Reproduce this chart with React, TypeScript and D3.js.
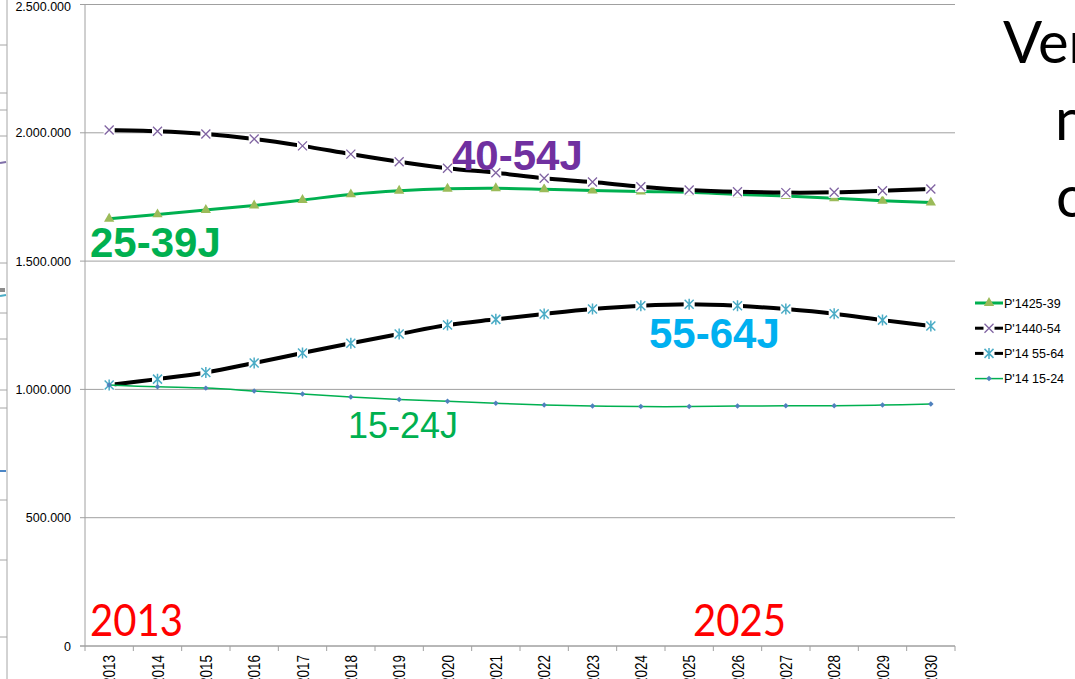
import * as d3 from "d3";

// categories
const years = [
  "2013", "2014", "2015", "2016", "2017", "2018", "2019", "2020", "2021",
  "2022", "2023", "2024", "2025", "2026", "2027", "2028", "2029", "2030",
];

// series values (persons)
const p25_39 = [
  1665000, 1682000, 1699000, 1717000, 1738000, 1760000, 1774000, 1782000, 1784000,
  1780000, 1775000, 1771000, 1768000, 1760000, 1754000, 1745000, 1735000, 1728000,
];
const p40_54 = [
  2011000, 2006000, 1995000, 1976000, 1949000, 1917000, 1887000, 1862000, 1844000,
  1823000, 1808000, 1790000, 1777000, 1770000, 1767000, 1768000, 1774000, 1781000,
];
const p55_64 = [
  1017000, 1040000, 1066000, 1103000, 1142000, 1180000, 1216000, 1251000, 1273000,
  1294000, 1313000, 1326000, 1332000, 1326000, 1313000, 1295000, 1270000, 1247000,
];
const p15_24 = [
  1017000, 1010000, 1005000, 994000, 982000, 970000, 961000, 954000, 946000,
  939000, 935000, 933000, 933000, 935000, 936000, 936000, 939000, 943000,
];

const yTicks = [0, 500000, 1000000, 1500000, 2000000, 2500000];
const legendNames = ["P'1425-39", "P'1440-54", "P'14 55-64", "P'14 15-24"];

const W = 1075;
const H = 679;
const left = 85;
const right = 955;
const top = 4.5;
const bottom = 646;

const x = d3.scaleBand<string>().domain(years).range([left, right]).padding(0);
const y = d3.scaleLinear().domain([0, 2500000]).range([bottom, top]);
const cx = (yr: string) => (x(yr) ?? 0) + x.bandwidth() / 2;

const fmt = (v: number) => d3.format(",")(v).replace(/,/g, ".");

type Marker = "tri" | "x" | "star" | "diamond";

type Series = {
  name: string;
  values: number[];
  stroke: string;
  width: number;
  marker: Marker;
  mColor: string;
};

const series: Series[] = [
  { name: legendNames[0], values: p25_39, stroke: "#00B050", width: 3, marker: "tri", mColor: "#9BBB59" },
  { name: legendNames[1], values: p40_54, stroke: "#000000", width: 4, marker: "x", mColor: "#8064A2" },
  { name: legendNames[2], values: p55_64, stroke: "#000000", width: 4, marker: "star", mColor: "#4BACC6" },
  { name: legendNames[3], values: p15_24, stroke: "#00B050", width: 1.5, marker: "diamond", mColor: "#4F81BD" },
];

const triPath = d3.symbol(d3.symbolTriangle, 46)()!;
const diaPath = d3.symbol(d3.symbolSquare, 15)()!;

function MarkerGlyph(props: { kind: Marker; color: string; px: number; py: number }) {
  const { kind, color, px, py } = props;
  const t = `translate(${px},${py})`;
  if (kind === "tri") return <path d={triPath} transform={t} fill={color} />;
  if (kind === "diamond")
    return <path d={diaPath} transform={`${t} rotate(45)`} fill={color} />;
  const r = 4.5;
  const cross = `M${-r},${-r}L${r},${r}M${-r},${r}L${r},${-r}`;
  return (
    <g transform={t}>
      <rect x={-5.5} y={-5.5} width={11} height={11} fill="#fff" />
      <path
        d={kind === "star" ? cross + `M0,${-r - 1}L0,${r + 1}` : cross}
        stroke={color}
        strokeWidth={kind === "star" ? 1.5 : 1.3}
        fill="none"
      />
    </g>
  );
}

// stray lines of the neighbouring slide on the left edge
const edgeTicks = [45, 93, 110, 136, 263, 313, 339, 390, 408, 500, 560, 637];

export default function App() {
  const line = d3
    .line<number>()
    .x((_, i) => cx(years[i]))
    .y((d) => y(d))
    .curve(d3.curveCatmullRom.alpha(0.5));

  return (
    <svg
      width={W}
      height={H}
      style={{ position: "absolute", left: 0, top: 0, background: "#fff" }}
      fontFamily="'Liberation Sans', Arial, sans-serif"
    >
      <rect width={W} height={H} fill="#fff" />

      {/* left edge remnants */}
      <line x1={7} x2={7} y1={0} y2={H} stroke="#A6A6A6" strokeWidth={1} />
      {edgeTicks.map((t) => (
        <line key={t} x1={0} x2={7} y1={t} y2={t} stroke="#A6A6A6" strokeWidth={1} />
      ))}
      <line x1={0} x2={6} y1={163} y2={162} stroke="#7F6FA8" strokeWidth={2} />
      <line x1={0} x2={6} y1={296} y2={295} stroke="#4BACC6" strokeWidth={2} />
      <rect x={0} y={288} width={5} height={4} fill="#8C8C8C" />
      <line x1={0} x2={6} y1={471} y2={471} stroke="#4B86C6" strokeWidth={2} />

      {/* gridlines + y axis */}
      {yTicks.map((t) => (
        <g key={t}>
          <line x1={80} x2={right} y1={y(t)} y2={y(t)} stroke="#A0A0A0" strokeWidth={1} />
          <text x={71} y={Math.max(y(t) + 4.5, 10.5)} textAnchor="end" fontSize={12.5} fill="#000">
            {fmt(t)}
          </text>
        </g>
      ))}
      <line x1={left} x2={left} y1={top} y2={bottom} stroke="#A0A0A0" strokeWidth={1} />

      {/* x axis */}
      <line x1={80} x2={right} y1={bottom} y2={bottom} stroke="#A0A0A0" strokeWidth={1} />
      {years.map((yr) => (
        <line
          key={"t" + yr}
          x1={x(yr)}
          x2={x(yr)}
          y1={bottom}
          y2={bottom + 5}
          stroke="#A0A0A0"
        />
      ))}
      <line x1={right} x2={right} y1={bottom} y2={bottom + 5} stroke="#A0A0A0" />
      {years.map((yr) => (
        <text
          key={"l" + yr}
          transform={`translate(${cx(yr)},655) rotate(-90) scale(1,1.25)`}
          textAnchor="end"
          dy="0.36em"
          fontSize={13.5}
          fill="#000"
        >
          {yr}
        </text>
      ))}

      {/* series */}
      {series.map((s) => (
        <g key={s.name}>
          <path d={line(s.values) ?? ""} fill="none" stroke={s.stroke} strokeWidth={s.width} />
          {s.values.map((v, i) => (
            <MarkerGlyph key={i} kind={s.marker} color={s.mColor} px={cx(years[i])} py={y(v)} />
          ))}
        </g>
      ))}

      {/* annotations */}
      <g fontWeight="bold" fontSize={42}>
        <text x={452} y={170} fill="#7030A0">40-54J</text>
        <text x={90} y={257} fill="#00B050">25-39J</text>
        <text x={649} y={348} fill="#00B0F0">55-64J</text>
      </g>
      <text x={348} y={438} fill="#00B050" fontSize={36}>15-24J</text>
      <g fontFamily="Lato, 'Open Sans', sans-serif" fill="#FF0000" fontSize={44}>
        <text x={90} y={636} textLength={93} lengthAdjust="spacingAndGlyphs">2013</text>
        <text x={693} y={636} textLength={93} lengthAdjust="spacingAndGlyphs">2025</text>
      </g>

      {/* title fragments cut at the slide edge */}
      <g fontFamily="Lato, 'Open Sans', sans-serif" fill="#000" fontSize={58}>
        <text x={1003} y={63}>Ver</text>
        <text x={1055} y={140}>n</text>
        <text x={1056} y={217}>c</text>
      </g>

      {/* legend */}
      {series.map((s, i) => {
        const ly = 303 + i * 25.2;
        return (
          <g key={"lg" + s.name}>
            <line x1={975} x2={1003} y1={ly} y2={ly} stroke={s.stroke} strokeWidth={s.width === 4 ? 3 : s.width} />
            <MarkerGlyph kind={s.marker} color={s.mColor} px={989} py={ly} />
            <text x={1004} y={ly + 4.5} fontSize={12.5} fill="#000">
              {s.name}
            </text>
          </g>
        );
      })}
    </svg>
  );
}
